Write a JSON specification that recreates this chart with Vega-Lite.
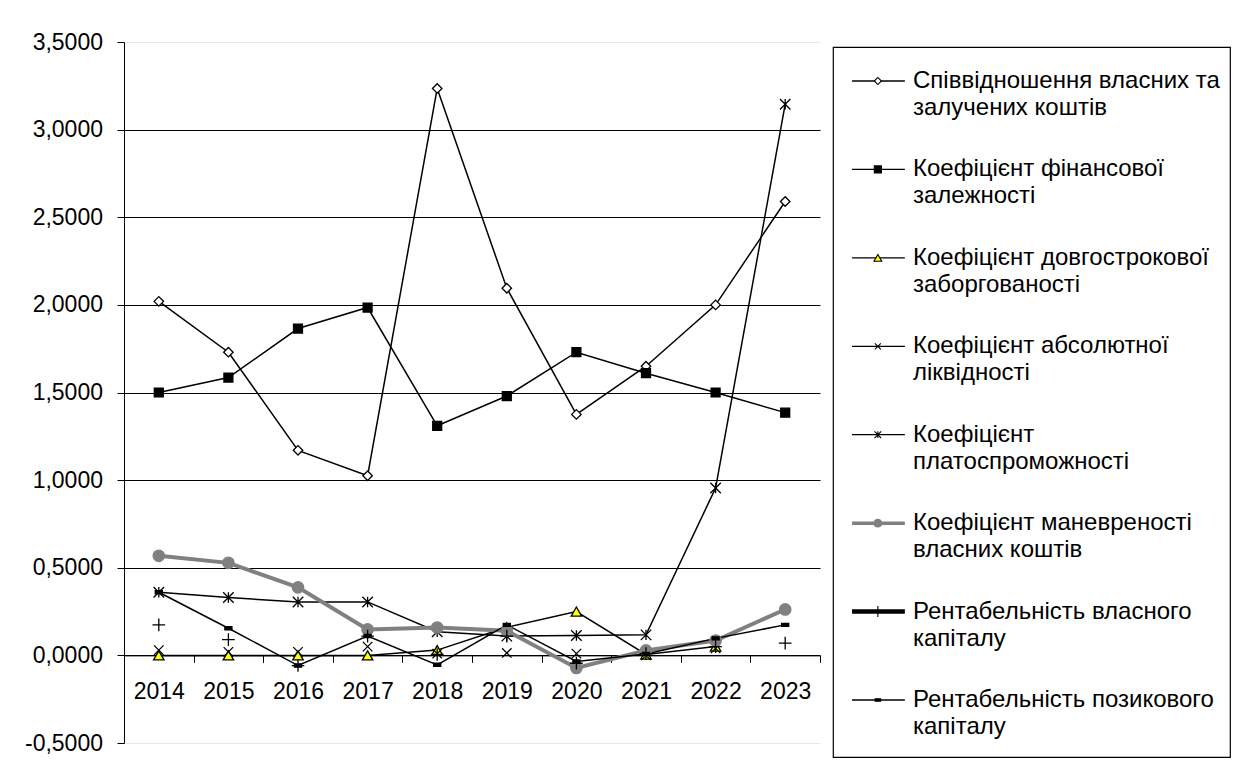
{
  "$schema": "https://vega.github.io/schema/vega-lite/v6.json",
  "autosize": {"type": "pad"},
  "padding": {"left": 24, "top": 31, "right": 0, "bottom": 0},
  "background": "white",
  "bounds": "flush",
  "spacing": 13,
  "config": {
    "font": "Liberation Sans",
    "view": {"stroke": null},
    "axis": {"labelFont": "Liberation Sans", "labelColor": "black", "titleFont": "Liberation Sans"}
  },
  "datasets": {
    "series": [
      {"year": "2014", "series": "Співвідношення власних та залучених коштів", "value": 2.02},
      {"year": "2015", "series": "Співвідношення власних та залучених коштів", "value": 1.73},
      {"year": "2016", "series": "Співвідношення власних та залучених коштів", "value": 1.17},
      {"year": "2017", "series": "Співвідношення власних та залучених коштів", "value": 1.025},
      {"year": "2018", "series": "Співвідношення власних та залучених коштів", "value": 3.235},
      {"year": "2019", "series": "Співвідношення власних та залучених коштів", "value": 2.095},
      {"year": "2020", "series": "Співвідношення власних та залучених коштів", "value": 1.375},
      {"year": "2021", "series": "Співвідношення власних та залучених коштів", "value": 1.65},
      {"year": "2022", "series": "Співвідношення власних та залучених коштів", "value": 2.0},
      {"year": "2023", "series": "Співвідношення власних та залучених коштів", "value": 2.59},
      {"year": "2014", "series": "Коефіцієнт фінансової залежності", "value": 1.5},
      {"year": "2015", "series": "Коефіцієнт фінансової залежності", "value": 1.585},
      {"year": "2016", "series": "Коефіцієнт фінансової залежності", "value": 1.865},
      {"year": "2017", "series": "Коефіцієнт фінансової залежності", "value": 1.985},
      {"year": "2018", "series": "Коефіцієнт фінансової залежності", "value": 1.31},
      {"year": "2019", "series": "Коефіцієнт фінансової залежності", "value": 1.48},
      {"year": "2020", "series": "Коефіцієнт фінансової залежності", "value": 1.73},
      {"year": "2021", "series": "Коефіцієнт фінансової залежності", "value": 1.61},
      {"year": "2022", "series": "Коефіцієнт фінансової залежності", "value": 1.5},
      {"year": "2023", "series": "Коефіцієнт фінансової залежності", "value": 1.385},
      {"year": "2014", "series": "Коефіцієнт довгострокової заборгованості", "value": 0.0},
      {"year": "2015", "series": "Коефіцієнт довгострокової заборгованості", "value": 0.0},
      {"year": "2016", "series": "Коефіцієнт довгострокової заборгованості", "value": 0.0},
      {"year": "2017", "series": "Коефіцієнт довгострокової заборгованості", "value": 0.0},
      {"year": "2018", "series": "Коефіцієнт довгострокової заборгованості", "value": 0.03},
      {"year": "2019", "series": "Коефіцієнт довгострокової заборгованості", "value": 0.16},
      {"year": "2020", "series": "Коефіцієнт довгострокової заборгованості", "value": 0.25},
      {"year": "2021", "series": "Коефіцієнт довгострокової заборгованості", "value": 0.005},
      {"year": "2022", "series": "Коефіцієнт довгострокової заборгованості", "value": 0.05},
      {"year": "2014", "series": "Коефіцієнт абсолютної ліквідності", "value": 0.03},
      {"year": "2015", "series": "Коефіцієнт абсолютної ліквідності", "value": 0.02},
      {"year": "2016", "series": "Коефіцієнт абсолютної ліквідності", "value": 0.02},
      {"year": "2017", "series": "Коефіцієнт абсолютної ліквідності", "value": 0.05},
      {"year": "2018", "series": "Коефіцієнт абсолютної ліквідності", "value": 0.01},
      {"year": "2019", "series": "Коефіцієнт абсолютної ліквідності", "value": 0.014},
      {"year": "2020", "series": "Коефіцієнт абсолютної ліквідності", "value": 0.01},
      {"year": "2021", "series": "Коефіцієнт абсолютної ліквідності", "value": 0.0},
      {"year": "2022", "series": "Коефіцієнт абсолютної ліквідності", "value": 0.04},
      {"year": "2014", "series": "Коефіцієнт платоспроможності", "value": 0.36},
      {"year": "2015", "series": "Коефіцієнт платоспроможності", "value": 0.33},
      {"year": "2016", "series": "Коефіцієнт платоспроможності", "value": 0.305},
      {"year": "2017", "series": "Коефіцієнт платоспроможності", "value": 0.305},
      {"year": "2018", "series": "Коефіцієнт платоспроможності", "value": 0.135},
      {"year": "2019", "series": "Коефіцієнт платоспроможності", "value": 0.11},
      {"year": "2020", "series": "Коефіцієнт платоспроможності", "value": 0.113},
      {"year": "2021", "series": "Коефіцієнт платоспроможності", "value": 0.117},
      {"year": "2022", "series": "Коефіцієнт платоспроможності", "value": 0.955},
      {"year": "2023", "series": "Коефіцієнт платоспроможності", "value": 3.145},
      {"year": "2014", "series": "Коефіцієнт маневреності власних коштів", "value": 0.568},
      {"year": "2015", "series": "Коефіцієнт маневреності власних коштів", "value": 0.528},
      {"year": "2016", "series": "Коефіцієнт маневреності власних коштів", "value": 0.388},
      {"year": "2017", "series": "Коефіцієнт маневреності власних коштів", "value": 0.148},
      {"year": "2018", "series": "Коефіцієнт маневреності власних коштів", "value": 0.159},
      {"year": "2019", "series": "Коефіцієнт маневреності власних коштів", "value": 0.14},
      {"year": "2020", "series": "Коефіцієнт маневреності власних коштів", "value": -0.072},
      {"year": "2021", "series": "Коефіцієнт маневреності власних коштів", "value": 0.028},
      {"year": "2022", "series": "Коефіцієнт маневреності власних коштів", "value": 0.085},
      {"year": "2023", "series": "Коефіцієнт маневреності власних коштів", "value": 0.262},
      {"year": "2014", "series": "Рентабельність власного капіталу", "value": 0.174},
      {"year": "2015", "series": "Рентабельність власного капіталу", "value": 0.09},
      {"year": "2016", "series": "Рентабельність власного капіталу", "value": -0.058},
      {"year": "2017", "series": "Рентабельність власного капіталу", "value": 0.11},
      {"year": "2018", "series": "Рентабельність власного капіталу", "value": 0.005},
      {"year": "2019", "series": "Рентабельність власного капіталу", "value": 0.11},
      {"year": "2020", "series": "Рентабельність власного капіталу", "value": -0.045},
      {"year": "2021", "series": "Рентабельність власного капіталу", "value": 0.01},
      {"year": "2022", "series": "Рентабельність власного капіталу", "value": 0.05},
      {"year": "2023", "series": "Рентабельність власного капіталу", "value": 0.07},
      {"year": "2014", "series": "Рентабельність позикового капіталу", "value": 0.36},
      {"year": "2015", "series": "Рентабельність позикового капіталу", "value": 0.155},
      {"year": "2016", "series": "Рентабельність позикового капіталу", "value": -0.058},
      {"year": "2017", "series": "Рентабельність позикового капіталу", "value": 0.11},
      {"year": "2018", "series": "Рентабельність позикового капіталу", "value": -0.054},
      {"year": "2019", "series": "Рентабельність позикового капіталу", "value": 0.174},
      {"year": "2020", "series": "Рентабельність позикового капіталу", "value": -0.035},
      {"year": "2021", "series": "Рентабельність позикового капіталу", "value": 0.008},
      {"year": "2022", "series": "Рентабельність позикового капіталу", "value": 0.097},
      {"year": "2023", "series": "Рентабельність позикового капіталу", "value": 0.174}
    ],
    "legend": [
      {"series": "Співвідношення власних та залучених коштів", "line1": "Співвідношення власних та", "line2": "залучених коштів"},
      {"series": "Коефіцієнт фінансової залежності", "line1": "Коефіцієнт фінансової", "line2": "залежності"},
      {"series": "Коефіцієнт довгострокової заборгованості", "line1": "Коефіцієнт довгострокової", "line2": "заборгованості"},
      {"series": "Коефіцієнт абсолютної ліквідності", "line1": "Коефіцієнт абсолютної", "line2": "ліквідності"},
      {"series": "Коефіцієнт платоспроможності", "line1": "Коефіцієнт", "line2": "платоспроможності"},
      {"series": "Коефіцієнт маневреності власних коштів", "line1": "Коефіцієнт маневреності", "line2": "власних коштів"},
      {"series": "Рентабельність власного капіталу", "line1": "Рентабельність власного", "line2": "капіталу"},
      {"series": "Рентабельність позикового капіталу", "line1": "Рентабельність позикового", "line2": "капіталу"}
    ],
    "spacer": [{"k": "a"}]
  },
  "resolve": {"scale": {"x": "independent", "y": "independent", "size": "independent", "strokeWidth": "independent"}},
  "hconcat": [
    {
      "width": 696,
      "height": 701,
      "view": {"stroke": null},
      "data": {"name": "series"},
      "encoding": {
        "x": {
          "field": "year", "type": "nominal",
          "scale": {"paddingInner": 0, "paddingOuter": 0},
          "axis": {
            "orient": "bottom", "offset": -87.625, "title": null, "labelAngle": 0,
            "labelFontSize": 23, "labelPadding": 18, "tickSize": 7, "tickBand": "extent",
            "tickColor": "black", "domainColor": "black", "grid": false
          }
        },
        "y": {
          "field": "value", "type": "quantitative",
          "scale": {"domain": [-0.5, 3.5], "nice": false, "zero": false},
          "axis": {
            "title": null, "values": [-0.5, 0, 0.5, 1, 1.5, 2, 2.5, 3, 3.5],
            "labelExpr": "replace(replace(format(datum.value, '.4f'), '.', ','), '\u2212', '-')",
            "labelFontSize": 23, "labelPadding": 14.5, "tickSize": 7,
            "tickColor": "black", "domainColor": "black", "grid": true,
            "gridColor": {"condition": {"test": "datum.value == 3.5 || datum.value == -0.5", "value": "#e8e8e8"}, "value": "black"},
            "gridWidth": 1
          }
        }
      },
      "layer": [
        {
          "transform": [{"filter": {"not": {"field": "series", "oneOf": ["Коефіцієнт абсолютної ліквідності", "Рентабельність власного капіталу"]}}}],
          "mark": {"type": "line"},
          "encoding": {
            "detail": {"field": "series"},
            "color": {"field": "series", "type": "nominal", "legend": null,
              "scale": {"domain": ["Співвідношення власних та залучених коштів", "Коефіцієнт фінансової залежності", "Коефіцієнт довгострокової заборгованості", "Коефіцієнт абсолютної ліквідності", "Коефіцієнт платоспроможності", "Коефіцієнт маневреності власних коштів", "Рентабельність власного капіталу", "Рентабельність позикового капіталу"],
                "range": ["black", "black", "black", "black", "black", "#808080", "black", "black"]}},
            "strokeWidth": {"field": "series", "type": "ordinal", "legend": null,
              "scale": {"type": "ordinal", "domain": ["Співвідношення власних та залучених коштів", "Коефіцієнт фінансової залежності", "Коефіцієнт довгострокової заборгованості", "Коефіцієнт абсолютної ліквідності", "Коефіцієнт платоспроможності", "Коефіцієнт маневреності власних коштів", "Рентабельність власного капіталу", "Рентабельність позикового капіталу"],
                "range": [1.5, 1.5, 1.5, 1.5, 1.5, 4, 4.5, 1.5]}}
          }
        },
        {
          "mark": {"type": "point", "filled": false, "opacity": 1, "strokeWidth": 1.3},
          "encoding": {
            "shape": {"field": "series", "type": "nominal", "legend": null,
              "scale": {"domain": ["Співвідношення власних та залучених коштів", "Коефіцієнт фінансової залежності", "Коефіцієнт довгострокової заборгованості", "Коефіцієнт абсолютної ліквідності", "Коефіцієнт платоспроможності", "Коефіцієнт маневреності власних коштів", "Рентабельність власного капіталу", "Рентабельність позикового капіталу"],
                "range": ["diamond", "square", "triangle-up", "M-1,-1L1,1M-1,1L1,-1", "M-1,-1L1,1M-1,1L1,-1M0,-1L0,1", "circle", "M-1,0L1,0M0,-1L0,1", "M-1,-0.45L1,-0.45L1,0.45L-1,0.45Z"]}},
            "fill": {"field": "series", "type": "nominal", "legend": null,
              "scale": {"domain": ["Співвідношення власних та залучених коштів", "Коефіцієнт фінансової залежності", "Коефіцієнт довгострокової заборгованості", "Коефіцієнт абсолютної ліквідності", "Коефіцієнт платоспроможності", "Коефіцієнт маневреності власних коштів", "Рентабельність власного капіталу", "Рентабельність позикового капіталу"],
                "range": ["white", "black", "#FFFF00", "transparent", "transparent", "#808080", "transparent", "black"]}},
            "stroke": {"field": "series", "type": "nominal", "legend": null,
              "scale": {"domain": ["Співвідношення власних та залучених коштів", "Коефіцієнт фінансової залежності", "Коефіцієнт довгострокової заборгованості", "Коефіцієнт абсолютної ліквідності", "Коефіцієнт платоспроможності", "Коефіцієнт маневреності власних коштів", "Рентабельність власного капіталу", "Рентабельність позикового капіталу"],
                "range": ["black", "black", "black", "black", "black", "#808080", "black", "black"]}},
            "size": {"field": "series", "type": "ordinal", "legend": null,
              "scale": {"type": "ordinal", "domain": ["Співвідношення власних та залучених коштів", "Коефіцієнт фінансової залежності", "Коефіцієнт довгострокової заборгованості", "Коефіцієнт абсолютної ліквідності", "Коефіцієнт платоспроможності", "Коефіцієнт маневреності власних коштів", "Рентабельність власного капіталу", "Рентабельність позикового капіталу"],
                "range": [90, 80, 110, 90, 110, 130, 160, 50]}}
          }
        }
      ]
    },
    {
      "spacing": 0,
      "bounds": "flush",
      "vconcat": [
        {
          "width": 397,
          "height": 5,
          "view": {"stroke": null},
          "data": {"name": "spacer"},
          "mark": {"type": "point", "opacity": 0},
          "encoding": {}
        },
        {
          "width": 397,
          "height": 710,
          "view": {"stroke": "black", "strokeWidth": 1.2},
          "data": {"name": "legend"},
          "encoding": {
            "y": {"field": "series", "type": "nominal", "axis": null,
              "scale": {"type": "point", "padding": 0.5145, "align": 0.3736,
                "domain": ["Співвідношення власних та залучених коштів", "Коефіцієнт фінансової залежності", "Коефіцієнт довгострокової заборгованості", "Коефіцієнт абсолютної ліквідності", "Коефіцієнт платоспроможності", "Коефіцієнт маневреності власних коштів", "Рентабельність власного капіталу", "Рентабельність позикового капіталу"]}}
          },
          "layer": [
            {
              "mark": {"type": "rule"},
              "encoding": {
                "x": {"datum": 0.048, "type": "quantitative", "scale": {"domain": [0, 1], "nice": false, "zero": false}, "axis": null},
                "x2": {"datum": 0.181},
                "color": {"field": "series", "type": "nominal", "legend": null,
                  "scale": {"domain": ["Співвідношення власних та залучених коштів", "Коефіцієнт фінансової залежності", "Коефіцієнт довгострокової заборгованості", "Коефіцієнт абсолютної ліквідності", "Коефіцієнт платоспроможності", "Коефіцієнт маневреності власних коштів", "Рентабельність власного капіталу", "Рентабельність позикового капіталу"],
                    "range": ["black", "black", "black", "black", "black", "#808080", "black", "black"]}},
                "strokeWidth": {"field": "series", "type": "ordinal", "legend": null,
                  "scale": {"type": "ordinal", "domain": ["Співвідношення власних та залучених коштів", "Коефіцієнт фінансової залежності", "Коефіцієнт довгострокової заборгованості", "Коефіцієнт абсолютної ліквідності", "Коефіцієнт платоспроможності", "Коефіцієнт маневреності власних коштів", "Рентабельність власного капіталу", "Рентабельність позикового капіталу"],
                    "range": [1.3, 1.3, 1.3, 1.3, 1.3, 3.5, 4.5, 1.3]}}
              }
            },
            {
              "mark": {"type": "point", "filled": false, "opacity": 1, "strokeWidth": 1.1},
              "encoding": {
                "x": {"datum": 0.113, "type": "quantitative"},
                "shape": {"field": "series", "type": "nominal", "legend": null,
                  "scale": {"domain": ["Співвідношення власних та залучених коштів", "Коефіцієнт фінансової залежності", "Коефіцієнт довгострокової заборгованості", "Коефіцієнт абсолютної ліквідності", "Коефіцієнт платоспроможності", "Коефіцієнт маневреності власних коштів", "Рентабельність власного капіталу", "Рентабельність позикового капіталу"],
                    "range": ["diamond", "square", "triangle-up", "M-1,-1L1,1M-1,1L1,-1", "M-1,-1L1,1M-1,1L1,-1M0,-1L0,1", "circle", "M-1,0L1,0M0,-1L0,1", "M-1,-0.45L1,-0.45L1,0.45L-1,0.45Z"]}},
                "fill": {"field": "series", "type": "nominal", "legend": null,
                  "scale": {"domain": ["Співвідношення власних та залучених коштів", "Коефіцієнт фінансової залежності", "Коефіцієнт довгострокової заборгованості", "Коефіцієнт абсолютної ліквідності", "Коефіцієнт платоспроможності", "Коефіцієнт маневреності власних коштів", "Рентабельність власного капіталу", "Рентабельність позикового капіталу"],
                    "range": ["white", "black", "#FFFF00", "transparent", "transparent", "#808080", "transparent", "black"]}},
                "stroke": {"field": "series", "type": "nominal", "legend": null,
                  "scale": {"domain": ["Співвідношення власних та залучених коштів", "Коефіцієнт фінансової залежності", "Коефіцієнт довгострокової заборгованості", "Коефіцієнт абсолютної ліквідності", "Коефіцієнт платоспроможності", "Коефіцієнт маневреності власних коштів", "Рентабельність власного капіталу", "Рентабельність позикового капіталу"],
                    "range": ["black", "black", "black", "black", "black", "#808080", "black", "black"]}},
                "size": {"field": "series", "type": "ordinal", "legend": null,
                  "scale": {"type": "ordinal", "domain": ["Співвідношення власних та залучених коштів", "Коефіцієнт фінансової залежності", "Коефіцієнт довгострокової заборгованості", "Коефіцієнт абсолютної ліквідності", "Коефіцієнт платоспроможності", "Коефіцієнт маневреності власних коштів", "Рентабельність власного капіталу", "Рентабельність позикового капіталу"],
                    "range": [50, 50, 60, 36, 45, 60, 121, 30]}}
              }
            },
            {
              "mark": {"type": "text", "align": "left", "baseline": "middle", "fontSize": 24, "color": "black"},
              "encoding": {
                "x": {"datum": 0.2015, "type": "quantitative"},
                "text": {"field": "line1"}
              }
            },
            {
              "mark": {"type": "text", "align": "left", "baseline": "middle", "fontSize": 24, "color": "black", "dy": 27},
              "encoding": {
                "x": {"datum": 0.2015, "type": "quantitative"},
                "text": {"field": "line2"}
              }
            }
          ]
        }
      ]
    }
  ]
}
